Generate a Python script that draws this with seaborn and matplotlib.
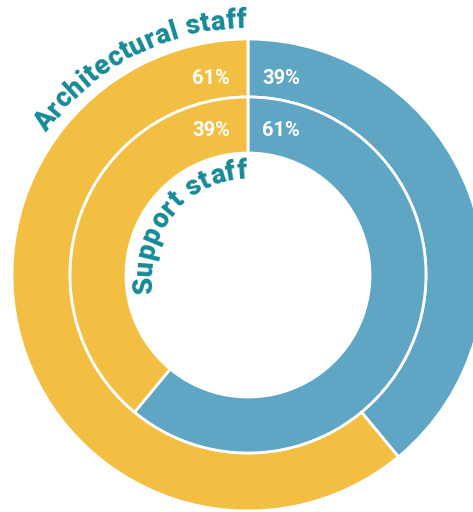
import numpy as np
import matplotlib
matplotlib.use("Agg")
import matplotlib.pyplot as plt
import seaborn as sns
from matplotlib.textpath import TextToPath
from matplotlib.font_manager import FontProperties

# ---- data ----
ring_names = ["Architectural staff", "Support staff"]
segments = ["Blue group", "Yellow group"]
outer_values = [39, 61]
inner_values = [61, 39]
outer_labels = ["39%", "61%"]
inner_labels = ["61%", "39%"]

sns.set_theme(style="white")
plt.rcParams['font.family'] = ['Roboto', 'DejaVu Sans']

BLUE = "#5FA6C4"
YELLOW = "#F3BF42"
TEAL = "#178A96"
colors = sns.color_palette([BLUE, YELLOW])

W, H = 473, 512
DPI = 100
fig = plt.figure(figsize=(W / DPI, H / DPI), dpi=DPI)
ax = fig.add_axes([0, 0, 1, 1])

cx, cy = 248, 237
R_out, w_out = 236, 58
R_in, w_in = 178, 56

wp = dict(edgecolor="white", linewidth=2)
ax.pie(outer_values, radius=R_out, center=(cx, cy), startangle=90,
       counterclock=False, colors=colors, wedgeprops=dict(width=w_out, **wp))
ax.pie(inner_values, radius=R_in, center=(cx, cy), startangle=90,
       counterclock=False, colors=colors, wedgeprops=dict(width=w_in, **wp))

ax.set_xlim(0, W)
ax.set_ylim(0, H)
ax.set_aspect("equal")
ax.axis("off")

# percentage labels near the top seam
lab_kw = dict(color="white", fontsize=14.5, fontweight="bold", ha="center", va="center")
ax.text(cx - 37, cy + 197, outer_labels[1], **lab_kw)
ax.text(cx + 33, cy + 197, outer_labels[0], **lab_kw)
ax.text(cx - 37, cy + 144, inner_labels[1], **lab_kw)
ax.text(cx + 33, cy + 144, inner_labels[0], **lab_kw)

# curved titles
fp = FontProperties(family="Roboto", weight="black", size=19.5)
ttp = TextToPath()
TRACK = 0.6  # extra spacing between letters, px


def wpx(s):
    w, h, d = ttp.get_text_width_height_descent(s, fp, ismath=False)
    return w * DPI / 72.0


def adv(prefix):
    if not prefix:
        return 0.0
    return wpx(prefix + "|") - wpx("|") + TRACK * len(prefix)


def curved_text(text, r, end_deg):
    total = adv(text) - TRACK
    theta0 = np.deg2rad(end_deg) + total / r
    for i, ch in enumerate(text):
        if ch == " ":
            continue
        s = (adv(text[:i]) + adv(text[:i + 1]) - TRACK) / 2
        th = theta0 - s / r
        x = cx + r * np.cos(th)
        y = cy + r * np.sin(th)
        ax.text(x, y, ch, fontproperties=fp, color=TEAL, ha="center",
                va="baseline", rotation=np.rad2deg(th) - 90,
                rotation_mode="anchor")


curved_text(ring_names[0], 247, 90.3)
curved_text(ring_names[1], 96, 90.3)

fig.savefig("out.png", dpi=DPI)
